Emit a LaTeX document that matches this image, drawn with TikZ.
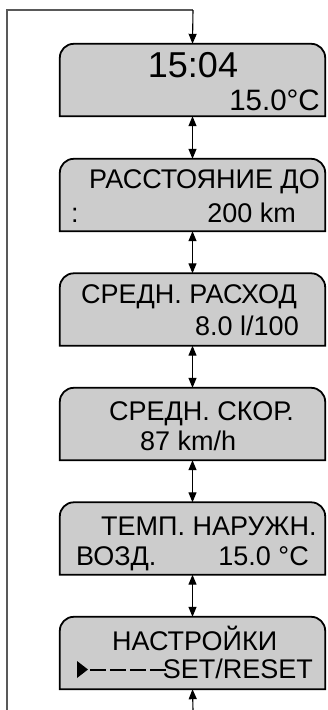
\documentclass[tikz,border=0pt]{standalone}
\usepackage{fontspec}
\setmainfont{Liberation Sans}
\usetikzlibrary{arrows.meta}
\definecolor{screenfill}{gray}{0.8}
\definecolor{loopgray}{gray}{0.35}

\begin{document}
\begin{tikzpicture}[x=1pt,y=-1pt,
  screen/.style={minimum width=265pt,minimum height=72pt,inner sep=0pt},
  screenline/.style={draw=black,line width=1.8pt,fill=screenfill},
  lcd/.style={inner sep=0pt,font=\fontsize{27}{30}\selectfont},
  link/.style={line width=1.1pt,{Triangle[length=10pt,width=8pt]}-{Triangle[length=10pt,width=8pt]}},
  feed/.style={line width=1.1pt,-{Triangle[length=10pt,width=8pt]}},
  back/.style={line width=1.2pt,draw=loopgray}]
\useasboundingbox (0,0) rectangle (327,710);
% экраны
\node[screen] (b1) at (192.5,80) {};
\node[screen] (b2) at (192.5,195) {};
\node[screen] (b3) at (192.5,309.5) {};
\node[screen] (b4) at (192.5,424) {};
\node[screen] (b5) at (192.5,538.5) {};
\node[screen] (b6) at (192.5,653) {};
\foreach \b in {b1,b2,b3,b4,b5,b6}
  \draw[screenline] (\b.south west) -- ([yshift=-14pt]\b.north west)
    arc[start angle=180,end angle=90,radius=14pt] -- ([xshift=-14pt]\b.north east)
    arc[start angle=90,end angle=0,radius=14pt] -- (\b.south east) -- cycle;
% тексты
\node[lcd,anchor=base,font=\fontsize{36}{40}\selectfont] (t1a) at (193,77) {15:04};
\node[lcd,anchor=base east,font=\fontsize{29.5}{32}\selectfont] (t1b) at (320,110) {15.0°C};
\node[lcd,anchor=base west] (t2a) at (89,188) {РАССТОЯНИЕ ДО};
\node[lcd,anchor=base west] (t2b) at (71,222) {:};
\node[lcd,anchor=base east] (t2c) at (296,222) {200 km};
\node[lcd,anchor=base west] (t3a) at (81,303) {СРЕДН. РАСХОД};
\node[lcd,anchor=base east] (t3b) at (299,335) {8.0 l/100};
\node[lcd,anchor=base west] (t4a) at (109,420) {СРЕДН. СКОР.};
\node[lcd,anchor=base west] (t4b) at (140,450) {87 km/h};
\node[lcd,anchor=base west] (t5a) at (101,535) {ТЕМП. НАРУЖН.};
\node[lcd,anchor=base west] (t5b) at (76,565) {ВОЗД.};
\node[lcd,anchor=base east] (t5c) at (309,565) {15.0 °C};
\node[lcd,anchor=base west] (t6a) at (112,650) {НАСТРОЙКИ};
\node[lcd,anchor=base east] (t6b) at (313,678) {SET/RESET};
% указатель
\fill (77,661) -- (88,669.5) -- (77,678) -- cycle;
\draw[line width=2pt,dash pattern=on 16pt off 4pt] (90,670) -- (166,670);
% переходы
\foreach \a/\b in {b1/b2,b2/b3,b3/b4,b4/b5,b5/b6}
  \draw[link] (\a.south) -- (\b.north);
\coordinate (top) at (193,10);
\coordinate (corner) at (7,10);
\coordinate (foot) at (7,710);
\coordinate (in) at (193,710);
\draw[back] (foot) -- (corner) -- (top);
\draw[feed] (top) -- (b1.north);
\draw[feed] (in) -- (b6.south);
\end{tikzpicture}
\end{document}
